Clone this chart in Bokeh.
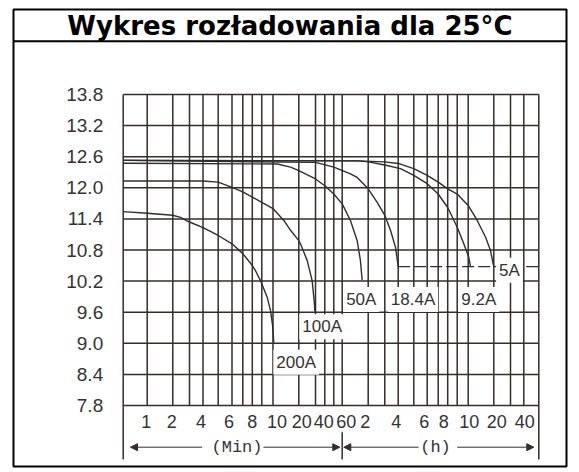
import numpy as np
from bokeh.plotting import figure
from bokeh.models import (Range1d, LinearAxis, FixedTicker, PrintfTickFormatter,
                          Span, Arrow, NormalHead)
from bokeh.core.properties import value
from bokeh.embed import file_html
from bokeh.resources import INLINE

TITLE = "Wykres rozładowania dla 25°C"

# ---------------- data ----------------
# x axis: time in minutes; the chart uses its own non-uniform spacing of grid lines
GRID_T = [0, 1, 2, 3, 4, 5, 6, 7, 8, 9, 10, 20, 30, 40, 50, 60,
          120, 180, 240, 300, 360, 420, 480, 540, 600, 1200, 1800, 2400, 3000]
# layout of that axis (pixels from the left edge of the grid)
GRID_POS = [0, 24.0, 49.6, 66.3, 79.8, 95.0, 108.8, 119.6, 129.1, 138.6, 149.8,
            175.6, 192.3, 201.6, 210.6, 219.0, 245.0, 261.6, 275.0, 290.6, 304.0,
            315.0, 324.5, 334.0, 345.0, 370.6, 387.3, 400.6, 415.6]

X_TICK_T = [1, 2, 4, 6, 8, 10, 20, 40, 60, 120, 240, 360, 480, 600, 1200, 2400]
X_TICK_LABELS = ["1", "2", "4", "6", "8", "10", "20", "40", "60",
                 "2", "4", "6", "8", "10", "20", "40"]
X_TICK_NUDGE = [-1, -1, -2, -3, 0, 4, 3, -1, 4, -3, -2, -3, -4, 1, 3, 1]

Y_TICKS = [7.8, 8.4, 9.0, 9.6, 10.2, 10.8, 11.4, 12.0, 12.6, 13.2, 13.8]

T_200A = [0, 1, 2, 2.46, 3, 4, 5, 6, 7, 8, 8.34, 8.86, 9.48, 9.78, 9.96, 10.3]
V_200A = [11.54, 11.51, 11.47, 11.43, 11.34, 11.23, 11.08, 10.92, 10.73, 10.50,
          10.40, 10.21, 9.89, 9.63, 9.35, 9.02]

T_100A = [0, 4, 5, 6, 7, 8, 9, 10, 14.2, 16.8, 20, 21, 25, 28, 29.4, 29.6]
V_100A = [12.13, 12.13, 12.11, 12.01, 11.92, 11.82, 11.72, 11.60, 11.37, 11.18,
          10.98, 10.92, 10.60, 10.21, 9.75, 9.62]

T_50A = [0, 11.7, 16.8, 20, 30, 40, 50, 60, 79, 94.6, 102, 106]
V_50A = [12.475, 12.46, 12.40, 12.33, 12.17, 12.04, 11.88, 11.69, 11.37, 10.98, 10.60, 10.22]

T_18A = [0, 30, 50, 79, 94.6, 120, 152.5, 180, 205.5, 228, 240]
V_18A = [12.53, 12.49, 12.40, 12.27, 12.20, 11.98, 11.72, 11.47, 11.18, 10.85, 10.48]

T_9A = [0, 97.6, 120, 180, 240, 248.8, 300, 360, 420, 480, 540, 576, 614, 654]
V_9A = [12.53, 12.52, 12.50, 12.44, 12.38, 12.37, 12.24, 12.08, 11.88, 11.62,
        11.24, 10.92, 10.66, 10.48]

T_5A = [0, 97.6, 180, 240, 300, 360, 420, 480, 540, 600, 811, 1005, 1123, 1186, 1200]
V_5A = [12.53, 12.52, 12.50, 12.47, 12.37, 12.24, 12.11, 11.98, 11.88, 11.66,
        11.37, 11.05, 10.79, 10.53, 10.48]

CUTOFF_T = [240, 3000]
CUTOFF_V = [10.48, 10.48]

CURVE_LABELS = ["200A", "100A", "50A", "18.4A", "9.2A", "5A"]
LABEL_T = [19.0, 37.2, 104, 297, 848, 1764]
LABEL_V = [8.635, 9.32, 9.845, 9.845, 9.845, 10.41]

UNIT_LABELS = ["(Min)", "(h)"]

# ---------------- layout ----------------
PX_PER_V = 311 / 6.0
FRAME_W, FRAME_H = 553, 457
GRID_LEFT_PX = 109.7          # frame left -> grid left
GRID_TOP_PX = 85              # frame top -> 13.8 line
V_TOP, V_BOT = Y_TICKS[-1], Y_TICKS[0]

X0 = -GRID_LEFT_PX
X1 = X0 + FRAME_W
Y1 = V_TOP + GRID_TOP_PX / PX_PER_V
Y0 = Y1 - FRAME_H / PX_PER_V


def pos(t):
    return np.interp(np.asarray(t, dtype=float), GRID_T, GRID_POS)


def below(px):
    """voltage coordinate px pixels below the 7.8 V line"""
    return V_BOT - px / PX_PER_V


def above_top(px):
    return V_TOP + px / PX_PER_V


LINE = "#352d2a"
TEXT = "#333333"

p = figure(width=569, height=469, x_range=Range1d(X0, X1), y_range=Range1d(Y0, Y1),
           x_axis_type=None, y_axis_type=None, toolbar_location=None,
           output_backend="svg", min_border_left=13, min_border_top=9,
           min_border_right=3, min_border_bottom=3)
p.outline_line_color = "black"
p.outline_line_width = 2
p.background_fill_color = "white"
p.border_fill_color = "white"

xl, xr = pos(GRID_T[0]), pos(GRID_T[-1])
inner = pos(GRID_T[1:-1])

# vertical grid lines
p.segment(x0=inner, y0=V_BOT, x1=inner, y1=V_TOP, line_color=LINE, line_width=1.5)
# border lines of the grid, running down into the unit band
p.segment(x0=[xl, xr], y0=below(54), x1=[xl, xr], y1=V_TOP, line_color=LINE, line_width=1.5)
# horizontal grid lines
p.segment(x0=xl, y0=Y_TICKS, x1=xr, y1=Y_TICKS, line_color=LINE, line_width=1.5)
# minutes / hours divider
p.segment(x0=[pos(60)], y0=below(26.7), x1=[pos(60)], y1=below(54), line_color=LINE, line_width=1.5)

CURVE = "#2e2e2e"
for T, V in [(T_200A, V_200A), (T_100A, V_100A), (T_50A, V_50A),
             (T_18A, V_18A), (T_9A, V_9A), (T_5A, V_5A)]:
    p.line(pos(T), V, line_color=CURVE, line_width=1.4)

p.line(pos(CUTOFF_T), CUTOFF_V, line_color=CURVE, line_width=1.4, line_dash="12 4")

p.text(x=pos(LABEL_T), y=LABEL_V, text=CURVE_LABELS,
       text_font=value("Liberation Sans"), text_font_size="17px", text_color=TEXT,
       text_align="center", text_baseline="middle",
       background_fill_color="white", padding=3)

# axes
ytick_axis = LinearAxis(fixed_location=xl, ticker=FixedTicker(ticks=Y_TICKS),
                        formatter=PrintfTickFormatter(format="%.1f"))
ytick_axis.axis_line_color = None
ytick_axis.major_tick_line_color = None
ytick_axis.minor_tick_line_color = None
ytick_axis.major_label_standoff = 14
ytick_axis.major_label_text_font = "Liberation Sans"
ytick_axis.major_label_text_font_size = "19px"
ytick_axis.major_label_text_color = TEXT
p.add_layout(ytick_axis, "left")

label_pos = [round(float(pos(t)) + n, 2) for t, n in zip(X_TICK_T, X_TICK_NUDGE)]
xtick_axis = LinearAxis(fixed_location=V_BOT, ticker=FixedTicker(ticks=label_pos),
                        major_label_overrides={k: s for k, s in zip(label_pos, X_TICK_LABELS)})
xtick_axis.axis_line_color = None
xtick_axis.major_tick_line_color = None
xtick_axis.minor_tick_line_color = None
xtick_axis.major_label_standoff = 3
xtick_axis.major_label_text_font = "Liberation Sans"
xtick_axis.major_label_text_font_size = "18px"
xtick_axis.major_label_text_color = TEXT
p.add_layout(xtick_axis, "below")

# unit band: arrows and (Min) / (h)
ya = below(41.7)
mid = pos(60)
for xs, xe in [(xl + 79, xl + 7.3), (xl + 140.3, mid - 2.4),
               (mid + 76.3, mid + 1.6), (mid + 115, xr - 5)]:
    p.add_layout(Arrow(end=NormalHead(size=7, fill_color=LINE, line_color=LINE, line_width=1),
                       x_start=xs, y_start=ya, x_end=xe, y_end=ya,
                       line_color=LINE, line_width=1))
p.text(x=[xl + 113.8, mid + 93.3], y=[ya, ya], text=UNIT_LABELS,
       text_font=value("Liberation Mono"), text_font_size="17px", text_color=TEXT,
       text_align="center", text_baseline="middle")

# title band
p.add_layout(Span(location=above_top(53.3), dimension="width", line_color="black", line_width=2))
p.text(x=[(X0 + X1) / 2], y=[above_top(69)], text=[TITLE],
       text_font=value("DejaVu Sans"), text_font_style="bold", text_font_size="26px",
       text_color="black", text_align="center", text_baseline="middle")

open("out.html", "w").write(file_html(p, INLINE))
